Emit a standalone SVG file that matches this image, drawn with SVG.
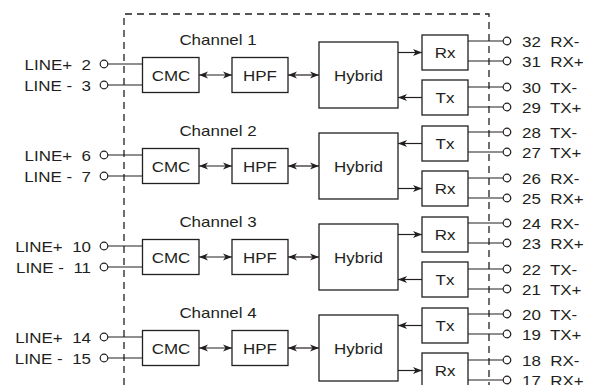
<svg xmlns="http://www.w3.org/2000/svg" width="597" height="385" viewBox="0 0 597 385">
<style>
text{font-family:"Liberation Sans",Arial,sans-serif;font-size:15px;fill:#231f20;white-space:pre}
.c{text-anchor:middle}
.e{text-anchor:end}
rect{fill:#fff;stroke:#231f20;stroke-width:1.3}
circle{fill:#fff;stroke:#231f20;stroke-width:1.2}
.w{fill:none;stroke:#231f20;stroke-width:1.2}
.a{fill:none;stroke:#231f20;stroke-width:1.2;marker-end:url(#ah)}
.d{fill:none;stroke:#231f20;stroke-width:1.2;marker-start:url(#ah);marker-end:url(#ah)}
.dash{fill:none;stroke:#231f20;stroke-width:1.3;stroke-dasharray:7 5}
</style>
<defs>
<marker id="ah" markerUnits="userSpaceOnUse" markerWidth="10" markerHeight="8" refX="9" refY="4" orient="auto-start-reverse">
<path d="M0,0.5 L9,4 L0,7.5 L2.5,4 Z" fill="#231f20"/>
</marker>
</defs>
<rect width="597" height="385" style="fill:#fff;stroke:none"/>
<g id="boundary"><path class="dash" d="M124,385 V14 H489 V385"/></g>

<g id="connectors">
<g transform="translate(0,0)">
<path class="w" d="M108,64 H142.5 M108,85 H142.5 M468,41 H503 M468,61 H503 M468,87 H503 M468,107 H503"/>
<path class="d" d="M199,75 H232"/><path class="d" d="M288,75 H319"/>
<path class="a" d="M398,52.5 H422"/><path class="a" d="M422,97.5 H398"/>
</g>
<g transform="translate(0,91)">
<path class="w" d="M108,64 H142.5 M108,85 H142.5 M468,41 H503 M468,61 H503 M468,87 H503 M468,107 H503"/>
<path class="d" d="M199,75 H232"/><path class="d" d="M288,75 H319"/>
<path class="a" d="M422,52.5 H398"/><path class="a" d="M398,97.5 H422"/>
</g>
<g transform="translate(0,182)">
<path class="w" d="M108,64 H142.5 M108,85 H142.5 M468,41 H503 M468,61 H503 M468,87 H503 M468,107 H503"/>
<path class="d" d="M199,75 H232"/><path class="d" d="M288,75 H319"/>
<path class="a" d="M398,52.5 H422"/><path class="a" d="M422,97.5 H398"/>
</g>
<g transform="translate(0,273)">
<path class="w" d="M108,64 H142.5 M108,85 H142.5 M468,41 H503 M468,61 H503 M468,87 H503 M468,107 H503"/>
<path class="d" d="M199,75 H232"/><path class="d" d="M288,75 H319"/>
<path class="a" d="M422,52.5 H398"/><path class="a" d="M398,97.5 H422"/>
</g>
</g>

<g id="channel1">
<text id="label1" class="c" transform="translate(218,45) scale(1.13,1)">Channel 1</text>
<g id="cmc1"><rect x="142.5" y="57.5" width="56.5" height="35"/><text class="c" transform="translate(171,80.5) scale(1.13,1)">CMC</text></g>
<g id="hpf1"><rect x="232" y="57.5" width="56" height="35"/><text class="c" transform="translate(260,80.5) scale(1.13,1)">HPF</text></g>
<g id="hybrid1"><rect x="319" y="42" width="79" height="66"/><text class="c" transform="translate(358.5,80.5) scale(1.13,1)">Hybrid</text></g>
<g id="rx1"><rect x="422" y="35" width="46" height="35"/><text class="c" transform="translate(445,58) scale(1.13,1)">Rx</text></g>
<g id="tx1"><rect x="422" y="80" width="46" height="35"/><text class="c" transform="translate(445,103) scale(1.13,1)">Tx</text></g>
<g id="pin2"><circle cx="104" cy="64" r="3.8"/><text class="e" transform="translate(91,69.5) scale(1.13,1)">LINE+  2</text></g>
<g id="pin3"><circle cx="104" cy="85" r="3.8"/><text class="e" transform="translate(91,90.5) scale(1.13,1)">LINE -  3</text></g>
<g id="pin32"><circle cx="507" cy="41" r="3.8"/><text transform="translate(522,46.5) scale(1.13,1)">32  RX-</text></g>
<g id="pin31"><circle cx="507" cy="61" r="3.8"/><text transform="translate(522,66.5) scale(1.13,1)">31  RX+</text></g>
<g id="pin30"><circle cx="507" cy="87" r="3.8"/><text transform="translate(522,92.5) scale(1.13,1)">30  TX-</text></g>
<g id="pin29"><circle cx="507" cy="107" r="3.8"/><text transform="translate(522,112.5) scale(1.13,1)">29  TX+</text></g>
</g>

<g id="channel2" transform="translate(0,91)">
<text id="label2" class="c" transform="translate(218,45) scale(1.13,1)">Channel 2</text>
<g id="cmc2"><rect x="142.5" y="57.5" width="56.5" height="35"/><text class="c" transform="translate(171,80.5) scale(1.13,1)">CMC</text></g>
<g id="hpf2"><rect x="232" y="57.5" width="56" height="35"/><text class="c" transform="translate(260,80.5) scale(1.13,1)">HPF</text></g>
<g id="hybrid2"><rect x="319" y="42" width="79" height="66"/><text class="c" transform="translate(358.5,80.5) scale(1.13,1)">Hybrid</text></g>
<g id="tx2"><rect x="422" y="35" width="46" height="35"/><text class="c" transform="translate(445,58) scale(1.13,1)">Tx</text></g>
<g id="rx2"><rect x="422" y="80" width="46" height="35"/><text class="c" transform="translate(445,103) scale(1.13,1)">Rx</text></g>
<g id="pin6"><circle cx="104" cy="64" r="3.8"/><text class="e" transform="translate(91,69.5) scale(1.13,1)">LINE+  6</text></g>
<g id="pin7"><circle cx="104" cy="85" r="3.8"/><text class="e" transform="translate(91,90.5) scale(1.13,1)">LINE -  7</text></g>
<g id="pin28"><circle cx="507" cy="41" r="3.8"/><text transform="translate(522,46.5) scale(1.13,1)">28  TX-</text></g>
<g id="pin27"><circle cx="507" cy="61" r="3.8"/><text transform="translate(522,66.5) scale(1.13,1)">27  TX+</text></g>
<g id="pin26"><circle cx="507" cy="87" r="3.8"/><text transform="translate(522,92.5) scale(1.13,1)">26  RX-</text></g>
<g id="pin25"><circle cx="507" cy="107" r="3.8"/><text transform="translate(522,112.5) scale(1.13,1)">25  RX+</text></g>
</g>

<g id="channel3" transform="translate(0,182)">
<text id="label3" class="c" transform="translate(218,45) scale(1.13,1)">Channel 3</text>
<g id="cmc3"><rect x="142.5" y="57.5" width="56.5" height="35"/><text class="c" transform="translate(171,80.5) scale(1.13,1)">CMC</text></g>
<g id="hpf3"><rect x="232" y="57.5" width="56" height="35"/><text class="c" transform="translate(260,80.5) scale(1.13,1)">HPF</text></g>
<g id="hybrid3"><rect x="319" y="42" width="79" height="66"/><text class="c" transform="translate(358.5,80.5) scale(1.13,1)">Hybrid</text></g>
<g id="rx3"><rect x="422" y="35" width="46" height="35"/><text class="c" transform="translate(445,58) scale(1.13,1)">Rx</text></g>
<g id="tx3"><rect x="422" y="80" width="46" height="35"/><text class="c" transform="translate(445,103) scale(1.13,1)">Tx</text></g>
<g id="pin10"><circle cx="104" cy="64" r="3.8"/><text class="e" transform="translate(91,69.5) scale(1.13,1)">LINE+  10</text></g>
<g id="pin11"><circle cx="104" cy="85" r="3.8"/><text class="e" transform="translate(91,90.5) scale(1.13,1)">LINE -  11</text></g>
<g id="pin24"><circle cx="507" cy="41" r="3.8"/><text transform="translate(522,46.5) scale(1.13,1)">24  RX-</text></g>
<g id="pin23"><circle cx="507" cy="61" r="3.8"/><text transform="translate(522,66.5) scale(1.13,1)">23  RX+</text></g>
<g id="pin22"><circle cx="507" cy="87" r="3.8"/><text transform="translate(522,92.5) scale(1.13,1)">22  TX-</text></g>
<g id="pin21"><circle cx="507" cy="107" r="3.8"/><text transform="translate(522,112.5) scale(1.13,1)">21  TX+</text></g>
</g>

<g id="channel4" transform="translate(0,273)">
<text id="label4" class="c" transform="translate(218,45) scale(1.13,1)">Channel 4</text>
<g id="cmc4"><rect x="142.5" y="57.5" width="56.5" height="35"/><text class="c" transform="translate(171,80.5) scale(1.13,1)">CMC</text></g>
<g id="hpf4"><rect x="232" y="57.5" width="56" height="35"/><text class="c" transform="translate(260,80.5) scale(1.13,1)">HPF</text></g>
<g id="hybrid4"><rect x="319" y="42" width="79" height="66"/><text class="c" transform="translate(358.5,80.5) scale(1.13,1)">Hybrid</text></g>
<g id="tx4"><rect x="422" y="35" width="46" height="35"/><text class="c" transform="translate(445,58) scale(1.13,1)">Tx</text></g>
<g id="rx4"><rect x="422" y="80" width="46" height="35"/><text class="c" transform="translate(445,103) scale(1.13,1)">Rx</text></g>
<g id="pin14"><circle cx="104" cy="64" r="3.8"/><text class="e" transform="translate(91,69.5) scale(1.13,1)">LINE+  14</text></g>
<g id="pin15"><circle cx="104" cy="85" r="3.8"/><text class="e" transform="translate(91,90.5) scale(1.13,1)">LINE -  15</text></g>
<g id="pin20"><circle cx="507" cy="41" r="3.8"/><text transform="translate(522,46.5) scale(1.13,1)">20  TX-</text></g>
<g id="pin19"><circle cx="507" cy="61" r="3.8"/><text transform="translate(522,66.5) scale(1.13,1)">19  TX+</text></g>
<g id="pin18"><circle cx="507" cy="87" r="3.8"/><text transform="translate(522,92.5) scale(1.13,1)">18  RX-</text></g>
<g id="pin17"><circle cx="507" cy="107" r="3.8"/><text transform="translate(522,112.5) scale(1.13,1)">17  RX+</text></g>
</g>
</svg>
